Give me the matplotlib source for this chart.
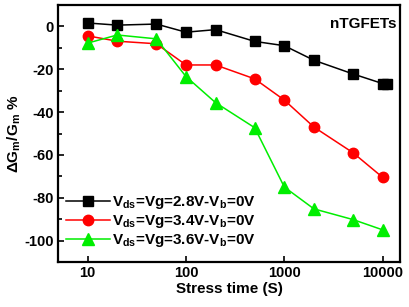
import matplotlib
matplotlib.use('Agg')
import matplotlib.pyplot as plt

plt.rcParams['font.family'] = ['Liberation Sans', 'DejaVu Sans']
plt.rcParams['font.weight'] = 'bold'
plt.rcParams['axes.unicode_minus'] = False
plt.rcParams['mathtext.fontset'] = 'custom'
plt.rcParams['mathtext.rm'] = 'Liberation Sans:bold'
plt.rcParams['mathtext.it'] = 'Liberation Sans:bold'
plt.rcParams['mathtext.bf'] = 'Liberation Sans:bold'

# stress time (s)
t_black = [10, 20, 50, 100, 200, 500, 1000, 2000, 5000, 10000, 11000]
dg_black = [1.6, 0.6, 1.1, -2.7, -1.5, -7, -9, -15.8, -22.2, -26.7, -27]
t_other = [10, 20, 50, 100, 200, 500, 1000, 2000, 5000, 10000]
dg_red = [-4.4, -6.9, -8.1, -18, -18, -24.5, -34.4, -47, -59, -70.5]
dg_green = [-7.8, -4, -5.8, -23.4, -35.6, -47.3, -75, -85.2, -90.2, -95]

labels = [r'V$_{\rm ds}$=Vg=2.8V-V$_{\rm b}$=0V',
          r'V$_{\rm ds}$=Vg=3.4V-V$_{\rm b}$=0V',
          r'V$_{\rm ds}$=Vg=3.6V-V$_{\rm b}$=0V']

fig = plt.figure(figsize=(4.09, 3.07), dpi=100)
ax = fig.add_axes([58 / 409, 1 - 262 / 307, (400 - 58) / 409, (262 - 5) / 307])

ax.plot(t_black, dg_black, color='black', marker='s', ms=7, lw=1.1, label=labels[0])
ax.plot(t_other, dg_red, color='#ff0000', marker='o', ms=7.5, lw=1.1, label=labels[1])
ax.plot(t_other, dg_green, color='#00ee00', marker='^', ms=8.5, lw=1.1, label=labels[2])

ax.set_xscale('log')
ax.set_xlim(5, 15000)
ax.set_ylim(-110, 10)
ax.set_xticks([10, 100, 1000, 10000])
ax.set_xticklabels(['10', '100', '1000', '10000'])
ax.xaxis.set_minor_locator(matplotlib.ticker.NullLocator())
ax.set_yticks([0, -20, -40, -60, -80, -100])
ax.set_yticks([-10, -30, -50, -70, -90], minor=True)
ax.tick_params(direction='in', labelsize=10.5, width=1.2, length=4, pad=3)
ax.tick_params(which='minor', direction='in', width=1.2, length=3)
for s in ax.spines.values():
    s.set_linewidth(1.6)

ax.set_xlabel('Stress time (S)', fontsize=11, fontweight='bold', labelpad=1)
ax.set_ylabel(r'$\Delta$G$_{\rm m}$/G$_{\rm m}$ %', fontsize=11, fontweight='bold', labelpad=1)
ax.text(0.99, 0.925, 'nTGFETs', transform=ax.transAxes, ha='right', va='center',
        fontsize=11, fontweight='bold')

ax.legend(loc='lower left', frameon=False, fontsize=11, handlelength=2.9,
          handletextpad=0.15, labelspacing=0.15, borderaxespad=0.0,
          bbox_to_anchor=(0.005, 0.025))

fig.savefig('out.png', dpi=100)
